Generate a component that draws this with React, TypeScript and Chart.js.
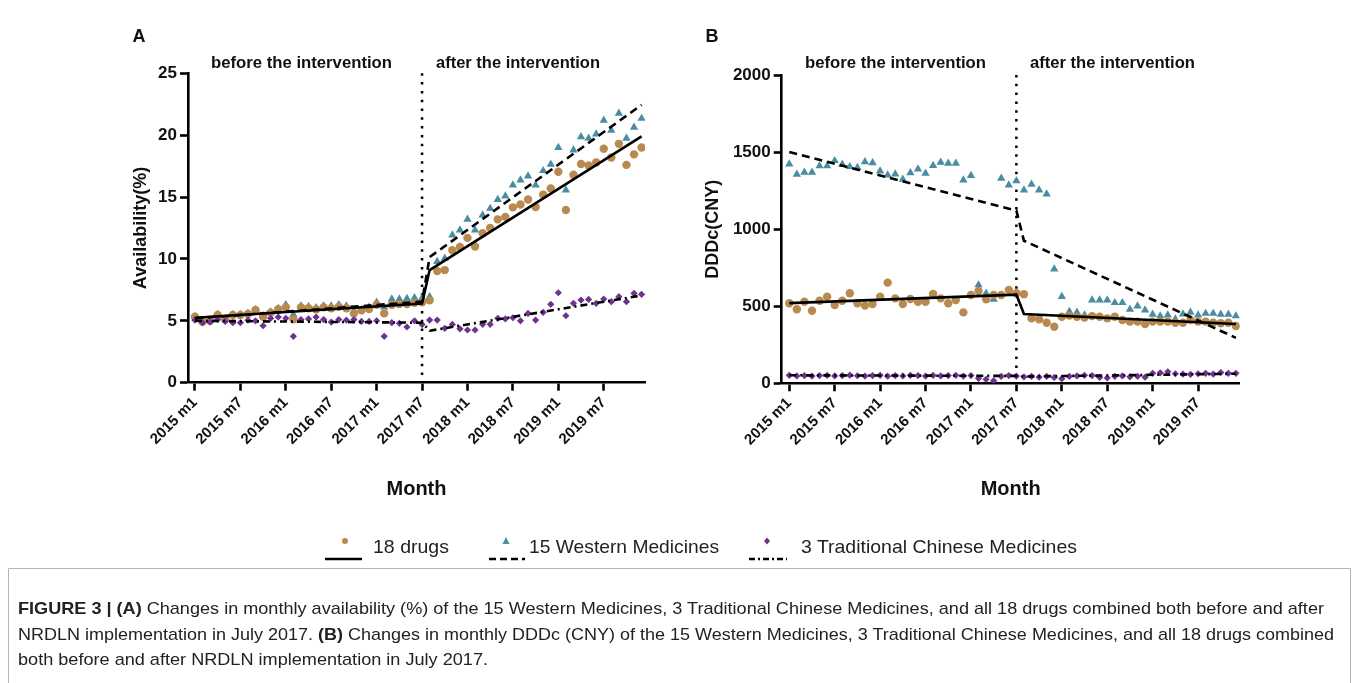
import React, { useEffect, useRef } from "react";
import { Chart, registerables } from "chart.js";
Chart.register(...registerables);

const FONT = "'Liberation Sans', Arial, Helvetica, sans-serif";
const NARROW = "'Liberation Sans Narrow', 'Liberation Sans', Arial, sans-serif";
const BROWN = "#B98A50";
const TEAL = "#4A8DA3";
const PURPLE = "#6E3290";

// month index of tick labels (0 = 2015 m1)
const tickIndex = [0, 6, 12, 18, 24, 30, 36, 42, 48, 54];
const tickLabels = ["2015 m1", "2015 m7", "2016 m1", "2016 m7", "2017 m1", "2017 m7", "2018 m1", "2018 m7", "2019 m1", "2019 m7"];
const interventionIndex = 30;

// Panel A: availability (%)
const availability18 = [
  5.33, 4.93, 5.01, 5.47, 5.12, 5.47, 5.47, 5.55, 5.87, 5.33, 5.66, 5.93, 6.09, 5.12, 6.09, 6.01, 5.93, 6.09, 6.01, 6.14,
  6.01, 5.6, 5.85, 5.95, 6.3, 5.6, 6.3, 6.35, 6.35, 6.45, 6.5,
  6.65, 9.02, 9.1, 10.7, 10.97, 11.7, 11.0, 12.07, 12.5, 13.2, 13.4, 14.17, 14.4, 14.8, 14.2, 15.2, 15.7, 17.05, 13.95,
  16.8, 17.67, 17.55, 17.8, 18.9, 18.2, 19.3, 17.6, 18.45, 19.0,
];
const availabilityWM = [
  5.35, 5.0, 5.05, 5.5, 5.15, 5.5, 5.5, 5.6, 5.9, 5.4, 5.7, 6.0, 6.3, 5.5, 6.2, 6.15, 6.05, 6.2, 6.2, 6.3,
  6.2, 5.8, 5.9, 6.1, 6.5, 6.1, 6.75, 6.75, 6.8, 6.85, 6.85,
  6.95, 9.78, 10.05, 11.93, 12.33, 13.2, 12.33, 13.55, 14.08, 14.8, 15.08, 15.97, 16.37, 16.7, 15.97, 17.13, 17.64, 19.0,
  15.57, 18.8, 19.87, 19.75, 20.09, 21.2, 20.4, 21.76, 19.75, 20.63, 21.35,
];
const availabilityTCM = [
  5.05, 4.85, 4.9, 5.1, 4.95, 4.85, 4.85, 5.05, 5.0, 4.6, 5.2, 5.3, 5.2, 3.75, 5.1, 5.15, 5.3, 5.1, 4.9, 5.1,
  5.05, 5.1, 4.95, 4.95, 5.0, 3.75, 4.85, 4.8, 4.5, 5.0, 4.7,
  5.06, 5.06, 4.39, 4.71, 4.35, 4.26, 4.26, 4.72, 4.72, 5.2, 5.15, 5.25, 5.0, 5.6, 5.06, 5.69, 6.33, 7.27, 5.41,
  6.41, 6.68, 6.73, 6.41, 6.76, 6.55, 6.95, 6.55, 7.22, 7.14,
];
// fitted segmented-regression lines: [month index, value]
const fitAvail18: [number, number][] = [[0, 5.25], [30, 6.4], [31, 9.1], [59, 19.9]];
const fitAvailWM: [number, number][] = [[0, 5.2], [30, 6.55], [31, 10.15], [59, 22.45]];
const fitAvailTCM: [number, number][] = [[0, 5.0], [30, 4.85], [31, 4.2], [59, 7.05]];

// Panel B: DDDc (CNY)
const ddd18 = [
  519, 480, 529, 471, 536, 562, 508, 536, 584, 519, 504, 514, 562, 653, 551, 514, 547, 529, 529, 579,
  551, 519, 540, 460, 573, 599, 545, 573, 573, 605, 584,
  578, 421, 415, 393, 367, 432, 439, 432, 426, 436, 432, 421, 432, 411, 400, 400, 385, 400, 400,
  400, 393, 393, 411, 400, 400, 393, 390, 393, 372,
];
const dddWM = [
  1422, 1356, 1369, 1369, 1410, 1410, 1444, 1420, 1405, 1400, 1437, 1430, 1377, 1351, 1357, 1323, 1366, 1390, 1362, 1412,
  1434, 1427, 1427, 1319, 1347, 638, 584, 545, 1330, 1286, 1314,
  1254, 1291, 1254, 1228, 741, 562, 465, 460, 443, 540, 540, 540, 523, 523, 480, 501, 475, 447, 437,
  443, 417, 449, 460, 443, 453, 453, 447, 447, 437,
];
const dddTCM = [
  52, 48, 50, 47, 50, 52, 48, 50, 53, 49, 47, 50, 52, 46, 50, 48, 52, 50, 47, 51,
  48, 50, 52, 47, 50, 32, 26, 17, 45, 50, 47,
  42, 45, 40, 45, 38, 30, 45, 48, 52, 50, 38, 35, 45, 48, 42, 45, 40, 65, 68,
  75, 62, 60, 58, 62, 65, 60, 70, 65, 65,
];
const fitDdd18: [number, number][] = [[0, 520], [30, 575], [31, 450], [59, 385]];
const fitDddWM: [number, number][] = [[0, 1500], [30, 1120], [31, 925], [59, 295]];
const fitDddTCM: [number, number][] = [[0, 52], [30, 48], [31, 44], [59, 62]];

const interventionPlugin = {
  id: "intervention",
  beforeDatasetsDraw(chart: any) {
    const { ctx, chartArea, scales } = chart;
    const x = scales.x.getPixelForValue(interventionIndex);
    ctx.save();
    ctx.beginPath();
    ctx.setLineDash([2.5, 6.3]);
    ctx.lineWidth = 2.5;
    ctx.strokeStyle = "#000";
    ctx.moveTo(x, chartArea.top);
    ctx.lineTo(x, chartArea.bottom);
    ctx.stroke();
    ctx.restore();
  },
};

function makeConfig(o: any) {
  const pts = (arr: number[]) => arr.map((v, i) => ({ x: i, y: v }));
  const seg = (arr: [number, number][]) => arr.map(([x, y]) => ({ x, y }));
  const lineBase = { showLine: true, pointRadius: 0, borderColor: "#000", borderWidth: 2.6, fill: false, tension: 0 };
  return {
    type: "scatter",
    data: {
      datasets: [
        { ...lineBase, data: seg(o.fit18) },
        { ...lineBase, data: seg(o.fitWM), borderDash: [8, 5] },
        { ...lineBase, data: seg(o.fitTCM), borderDash: [7, 4, 2, 4] },
        { data: pts(o.tcm), pointStyle: "rectRot", pointRadius: 3.6, backgroundColor: PURPLE, borderWidth: 0 },
        { data: pts(o.all18), pointStyle: "circle", pointRadius: 4.2, backgroundColor: BROWN, borderWidth: 0 },
        { data: pts(o.wm), pointStyle: "triangle", pointRadius: 4.8, backgroundColor: TEAL, borderWidth: 0 },
      ],
    },
    options: {
      animation: false,
      responsive: false,
      devicePixelRatio: 1,
      events: [],
      layout: { padding: { top: o.padTop, right: o.padRight, left: 0, bottom: 0 } },
      plugins: { legend: { display: false }, tooltip: { enabled: false } },
      scales: {
        x: {
          type: "linear",
          bounds: "data",
          min: o.xMin,
          max: o.xMax,
          afterBuildTicks: (s: any) => {
            s.ticks = tickIndex.map((v) => ({ value: v }));
          },
          afterFit: (s: any) => {
            s.height = o.xHeight;
          },
          ticks: {
            autoSkip: false,
            minRotation: 45,
            maxRotation: 45,
            padding: 3,
            color: "#111",
            font: { family: FONT, weight: "bold", size: 15 },
            callback: (v: number) => tickLabels[tickIndex.indexOf(v)],
          },
          grid: { display: true, drawOnChartArea: false, drawTicks: true, tickLength: 8, tickWidth: 2.6, tickColor: "#000" },
          border: { display: true, color: "#000", width: 2.6 },
          title: {
            display: true,
            text: "Month",
            color: "#111",
            font: { family: FONT, weight: "bold", size: 20 },
            padding: { top: 0, bottom: 19 },
          },
        },
        y: {
          min: 0,
          max: o.yMax,
          afterFit: (s: any) => {
            s.width = o.yWidth;
          },
          ticks: {
            stepSize: o.yStep,
            padding: 3,
            color: "#111",
            font: { family: FONT, weight: "bold", size: 17 },
            callback: (v: number) => String(v),
          },
          grid: { display: true, drawOnChartArea: false, drawTicks: true, tickLength: 8, tickWidth: 2.6, tickColor: "#000" },
          border: { display: true, color: "#000", width: 2.6 },
          title: {
            display: true,
            text: o.yTitle,
            color: "#111",
            font: { family: FONT, weight: "bold", size: 18 },
            padding: { top: o.yTitleX - 10.8, bottom: 0 },
          },
        },
      },
    },
    plugins: [interventionPlugin],
  };
}

function Panel({ cfg, left, width, height }: any) {
  const ref = useRef<HTMLCanvasElement>(null);
  useEffect(() => {
    const chart = new Chart(ref.current as HTMLCanvasElement, cfg);
    return () => chart.destroy();
  }, []);
  return (
    <canvas
      ref={ref}
      width={width}
      height={height}
      style={{ position: "absolute", left, top: 0, width, height }}
    />
  );
}

const cfgA = makeConfig({
  all18: availability18, wm: availabilityWM, tcm: availabilityTCM,
  fit18: fitAvail18, fitWM: fitAvailWM, fitTCM: fitAvailTCM,
  xMin: -0.92, xMax: 59.45, yMax: 25, yStep: 5, yTitle: "Availability(%)", yTitleX: 141,
  yWidth: 188, padTop: 73.3, padRight: 45, xHeight: 137.3,
});
const cfgB = makeConfig({
  all18: ddd18, wm: dddWM, tcm: dddTCM,
  fit18: fitDdd18, fitWM: fitDddWM, fitTCM: fitDddTCM,
  xMin: -1.0, xMax: 59.5, yMax: 2000, yStep: 500, yTitle: "DDDc(CNY)", yTitleX: 113,
  yWidth: 181.7, padTop: 75, padRight: 40.3, xHeight: 136.7,
});

export default function App() {
  const t = { fontFamily: FONT, fontWeight: "bold" as const, fill: "#111" };
  const lg = { fontFamily: NARROW, fontSize: 19, fill: "#222" };
  const cap = { fontFamily: NARROW, fontSize: 17, fill: "#222" };
  return (
    <div style={{ position: "absolute", left: 0, top: 0, width: 1357, height: 683, overflow: "hidden", background: "#fff" }}>
      <Panel cfg={cfgA} left={0} width={690} height={520} />
      <Panel cfg={cfgB} left={600} width={680} height={520} />
      <svg width={1357} height={683} style={{ position: "absolute", left: 0, top: 0, pointerEvents: "none" }}>
        <text x={139} y={41.5} textAnchor="middle" fontSize={18} {...t}>A</text>
        <text x={712} y={41.5} textAnchor="middle" fontSize={18} {...t}>B</text>
        <text x={211} y={67.5} fontSize={16.5} textLength={181} lengthAdjust="spacingAndGlyphs" {...t}>before the intervention</text>
        <text x={436} y={67.5} fontSize={16.5} textLength={164} lengthAdjust="spacingAndGlyphs" {...t}>after the intervention</text>
        <text x={805} y={67.5} fontSize={16.5} textLength={181} lengthAdjust="spacingAndGlyphs" {...t}>before the intervention</text>
        <text x={1030} y={67.5} fontSize={16.5} textLength={165} lengthAdjust="spacingAndGlyphs" {...t}>after the intervention</text>

        {/* legend */}
        <circle cx={345} cy={541} r={3} fill={BROWN} />
        <line x1={325} y1={559} x2={362} y2={559} stroke="#000" strokeWidth={2.5} />
        <text x={373} y={553} textLength={76} lengthAdjust="spacingAndGlyphs" {...lg}>18 drugs</text>
        <polygon points="506,537 509.5,544 502.5,544" fill={TEAL} />
        <line x1={489} y1={559} x2={525} y2={559} stroke="#000" strokeWidth={2.5} strokeDasharray="7,4" />
        <text x={529} y={553} textLength={190} lengthAdjust="spacingAndGlyphs" {...lg}>15 Western Medicines</text>
        <polygon points="767,537.5 770,541 767,544.5 764,541" fill={PURPLE} />
        <line x1={749} y1={559} x2={787} y2={559} stroke="#000" strokeWidth={2.5} strokeDasharray="6,3,2,3" />
        <text x={801} y={553} textLength={276} lengthAdjust="spacingAndGlyphs" {...lg}>3 Traditional Chinese Medicines</text>

        {/* caption box */}
        <path d="M8.5,683 L8.5,568.5 L1350.5,568.5 L1350.5,683" fill="none" stroke="#b5b5b5" strokeWidth={1} />
        <text x={18} y={614} textLength={1306} lengthAdjust="spacingAndGlyphs" {...cap}>
          <tspan fontWeight="bold">FIGURE 3 | (A)</tspan>
          {" Changes in monthly availability (%) of the 15 Western Medicines, 3 Traditional Chinese Medicines, and all 18 drugs combined both before and after"}
        </text>
        <text x={18} y={640} textLength={1316} lengthAdjust="spacingAndGlyphs" {...cap}>
          {"NRDLN implementation in July 2017. "}
          <tspan fontWeight="bold">(B)</tspan>
          {" Changes in monthly DDDc (CNY) of the 15 Western Medicines, 3 Traditional Chinese Medicines, and all 18 drugs combined"}
        </text>
        <text x={18} y={665} textLength={470} lengthAdjust="spacingAndGlyphs" {...cap}>
          both before and after NRDLN implementation in July 2017.
        </text>
      </svg>
    </div>
  );
}
